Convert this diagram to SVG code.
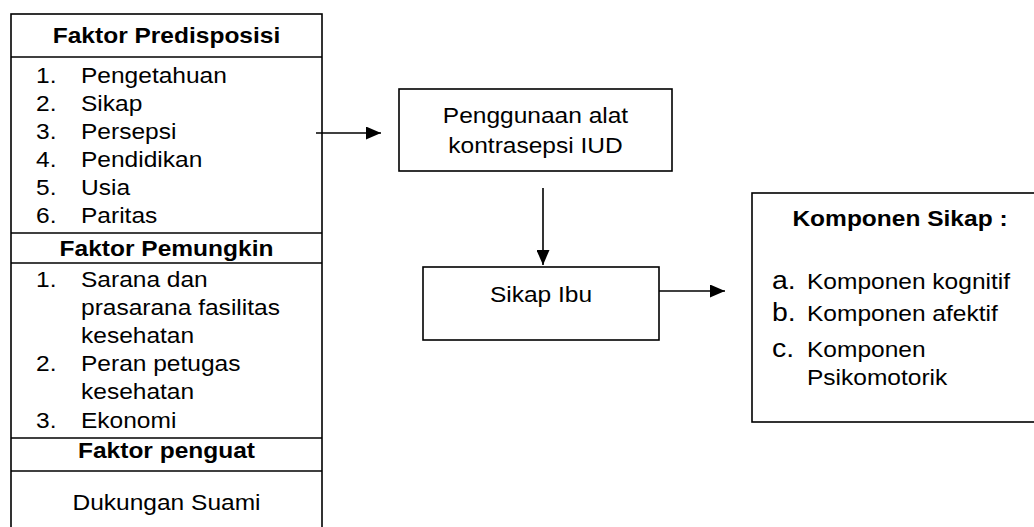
<svg xmlns="http://www.w3.org/2000/svg" width="1034" height="527" viewBox="0 0 1034 527">
<style>
.bx{fill:#fff;stroke:#000;stroke-width:1.6}
.ln{stroke:#000;stroke-width:1.6;fill:none}
.t{font-family:"Liberation Sans",Arial,sans-serif;font-size:22px;fill:#000}
.b{font-weight:bold}
.m{text-anchor:middle}
.big{font-size:25.5px}
</style>
<defs>
<marker id="ah" viewBox="0 0 15 13" refX="15" refY="6.5" markerWidth="15" markerHeight="13" markerUnits="userSpaceOnUse" orient="auto">
<path d="M0,0 L15,6.5 L0,13 Z" fill="#000"/>
</marker>
</defs>
<rect width="1034" height="527" fill="#fff"/>
<g id="faktor">
<rect class="bx" x="11" y="14" width="311" height="530"/>
<line class="ln" x1="11" y1="57" x2="322" y2="57"/>
<line class="ln" x1="11" y1="233" x2="322" y2="233"/>
<line class="ln" x1="11" y1="263" x2="322" y2="263"/>
<line class="ln" x1="11" y1="438" x2="322" y2="438"/>
<line class="ln" x1="11" y1="471" x2="322" y2="471"/>
<text class="t b m" transform="translate(166.5,43) scale(1.115,1)">Faktor Predisposisi</text>
<text class="t" transform="translate(36,83) scale(1.115,1)">1.</text>
<text class="t" transform="translate(81,83) scale(1.115,1)">Pengetahuan</text>
<text class="t" transform="translate(36,111) scale(1.115,1)">2.</text>
<text class="t" transform="translate(81,111) scale(1.115,1)">Sikap</text>
<text class="t" transform="translate(36,139) scale(1.115,1)">3.</text>
<text class="t" transform="translate(81,139) scale(1.115,1)">Persepsi</text>
<text class="t" transform="translate(36,167) scale(1.115,1)">4.</text>
<text class="t" transform="translate(81,167) scale(1.115,1)">Pendidikan</text>
<text class="t" transform="translate(36,195) scale(1.115,1)">5.</text>
<text class="t" transform="translate(81,195) scale(1.115,1)">Usia</text>
<text class="t" transform="translate(36,223) scale(1.115,1)">6.</text>
<text class="t" transform="translate(81,223) scale(1.115,1)">Paritas</text>
<text class="t b m" transform="translate(166.5,256) scale(1.115,1)">Faktor Pemungkin</text>
<text class="t" transform="translate(36,287) scale(1.115,1)">1.</text>
<text class="t" transform="translate(81,287) scale(1.115,1)">Sarana dan</text>
<text class="t" transform="translate(81,315) scale(1.115,1)">prasarana fasilitas</text>
<text class="t" transform="translate(81,343) scale(1.115,1)">kesehatan</text>
<text class="t" transform="translate(36,371) scale(1.115,1)">2.</text>
<text class="t" transform="translate(81,371) scale(1.115,1)">Peran petugas</text>
<text class="t" transform="translate(81,399) scale(1.115,1)">kesehatan</text>
<text class="t" transform="translate(36,428) scale(1.115,1)">3.</text>
<text class="t" transform="translate(81,428) scale(1.115,1)">Ekonomi</text>
<text class="t b m" transform="translate(166.5,458) scale(1.115,1)">Faktor penguat</text>
<text class="t m" transform="translate(166.5,510) scale(1.115,1)">Dukungan Suami</text>
</g>
<g id="penggunaan">
<rect class="bx" x="399" y="89" width="273" height="82"/>
<text class="t m" transform="translate(535.5,123) scale(1.115,1)">Penggunaan alat</text>
<text class="t m" transform="translate(535.5,153) scale(1.115,1)">kontrasepsi IUD</text>
</g>
<g id="sikap-ibu">
<rect class="bx" x="423" y="267" width="236" height="73"/>
<text class="t m" transform="translate(541,302) scale(1.115,1)">Sikap Ibu</text>
</g>
<g id="komponen">
<rect class="bx" x="752" y="193" width="300" height="229"/>
<text class="t b m" transform="translate(900,226) scale(1.115,1)">Komponen Sikap :</text>
<text class="t big" transform="translate(772,289) scale(1.115,1)">a.</text>
<text class="t" transform="translate(807,289) scale(1.115,1)">Komponen kognitif</text>
<text class="t big" transform="translate(772,321) scale(1.115,1)">b.</text>
<text class="t" transform="translate(807,321) scale(1.115,1)">Komponen afektif</text>
<text class="t big" transform="translate(772,357) scale(1.115,1)">c.</text>
<text class="t" transform="translate(807,357) scale(1.115,1)">Komponen</text>
<text class="t" transform="translate(807,385) scale(1.115,1)">Psikomotorik</text>
</g>
<g id="connectors">
<line class="ln" x1="316" y1="133" x2="381" y2="133" marker-end="url(#ah)"/>
<line class="ln" x1="543" y1="188" x2="543" y2="265" marker-end="url(#ah)"/>
<line class="ln" x1="659" y1="291" x2="725" y2="291" marker-end="url(#ah)"/>
</g>
</svg>
